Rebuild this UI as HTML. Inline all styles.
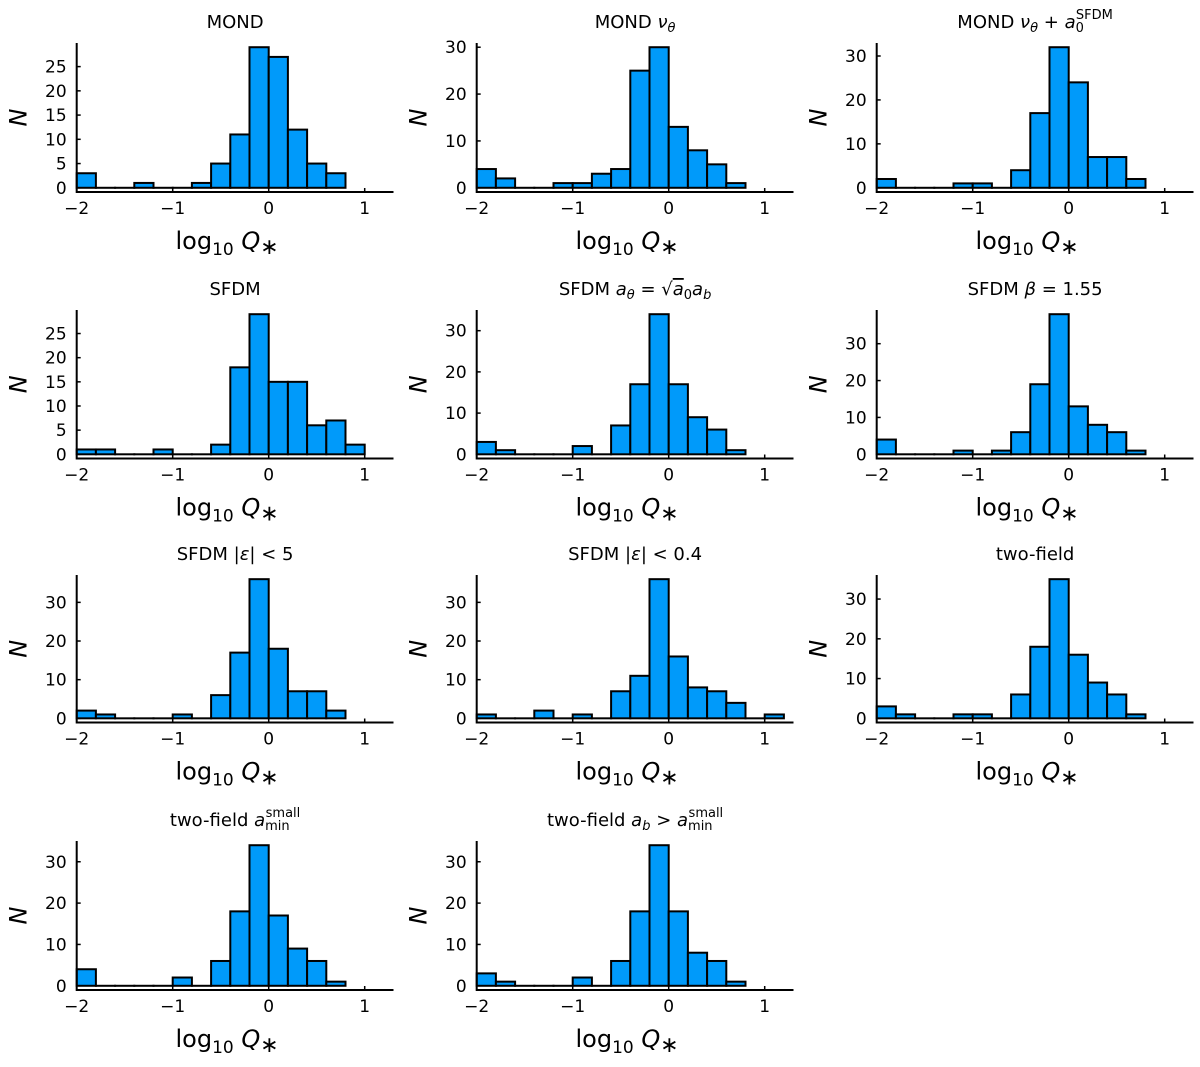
<!DOCTYPE html>
<html><head><meta charset="utf-8"><style>
html,body{margin:0;padding:0;background:#fff;}
svg{display:block;font-family:"DejaVu Sans","Liberation Sans",sans-serif;}
</style></head><body>
<svg id="fig" width="1200" height="1067" viewBox="0 0 1200 1067"></svg>
<script>
const titles = ["MOND","MOND ν_θ","MOND ν_θ + a_0^SFDM","SFDM","SFDM a_θ = √a₀a_b","SFDM β = 1.55","SFDM |ε| < 5","SFDM |ε| < 0.4","two-field","two-field a_min^small","two-field a_b > a_min^small"];
const binStart = -2;
const binWidth = 0.2;
const countsMOND = [3,0,0,1,0,0,1,5,11,29,27,12,5,3];
const countsMONDnu = [4,2,0,0,1,1,3,4,25,30,13,8,5,1];
const countsMONDnuA0 = [2,0,0,0,1,1,0,4,17,32,24,7,7,2];
const countsSFDM = [1,1,0,0,1,0,0,2,18,29,15,15,6,7,2];
const countsSFDMatheta = [3,1,0,0,0,2,0,7,17,34,17,9,6,1];
const countsSFDMbeta = [4,0,0,0,1,0,1,6,19,38,13,8,6,1];
const countsSFDMeps5 = [2,1,0,0,0,1,0,6,17,36,18,7,7,2];
const countsSFDMeps04 = [1,0,0,2,0,1,0,7,11,36,16,8,7,4,0,1];
const countsTwoField = [3,1,0,0,1,1,0,6,18,35,16,9,6,1];
const countsTwoFieldAmin = [4,0,0,0,0,2,0,6,18,34,17,9,6,1];
const countsTwoFieldAb = [3,1,0,0,0,2,0,6,18,34,18,8,6,1];
const yTicksSmall = [0,5,10,15,20,25];
const yTicksLarge = [0,10,20,30];
const xTicks = [-2,-1,0,1];
const xTickLabels = ["−2","−1","0","1"];

const allCounts=[countsMOND,countsMONDnu,countsMONDnuA0,countsSFDM,countsSFDMatheta,countsSFDMbeta,countsSFDMeps5,countsSFDMeps04,countsTwoField,countsTwoFieldAmin,countsTwoFieldAb];
const yTickSets=[yTicksSmall,yTicksLarge,yTicksLarge,yTicksSmall,yTicksLarge,yTicksLarge,yTicksLarge,yTicksLarge,yTicksLarge,yTicksLarge,yTicksLarge];
const NS="http://www.w3.org/2000/svg";
const svg=document.getElementById('fig');
function mk(tag,attrs,parent){const e=document.createElementNS(NS,tag);for(const k in attrs)e.setAttribute(k,attrs[k]);(parent||svg).appendChild(e);return e;}
const rowTop=[43,310,575,841], rowBot=[192,458.5,722.5,990];
const colLeft=[76.7,476.7,876.7];
const XMIN=-2,XMAX=1.3,PW=316.8;

function titleHTML(i){
  const m={
   1:'MOND <tspan font-style="italic">ν</tspan><tspan font-style="italic" font-size="13" dy="4">θ</tspan>',
   2:'MOND <tspan font-style="italic">ν</tspan><tspan font-style="italic" font-size="13" dy="4">θ</tspan><tspan dy="-4"> + </tspan><tspan font-style="italic">a</tspan><tspan font-size="13" dy="4">0</tspan><tspan font-size="13" dx="-8" dy="-13">SFDM</tspan>',
   4:'SFDM <tspan font-style="italic">a</tspan><tspan font-style="italic" font-size="13" dy="4">θ</tspan><tspan dy="-4"> = √</tspan><tspan font-style="italic" text-decoration="overline">a</tspan><tspan font-size="13" dy="4">0</tspan><tspan font-style="italic" dy="-4">a</tspan><tspan font-style="italic" font-size="13" dy="4">b</tspan>',
   5:'SFDM <tspan font-style="italic">β</tspan> = 1.55',
   6:'SFDM |<tspan font-style="italic">ε</tspan>| &lt; 5',
   7:'SFDM |<tspan font-style="italic">ε</tspan>| &lt; 0.4',
   9:'two-field <tspan font-style="italic">a</tspan><tspan font-size="13" dy="4">min</tspan><tspan font-size="13" dx="-24" dy="-13">small</tspan>',
   10:'two-field <tspan font-style="italic">a</tspan><tspan font-style="italic" font-size="13" dy="4">b</tspan><tspan dy="-4"> &gt; </tspan><tspan font-style="italic">a</tspan><tspan font-size="13" dy="4">min</tspan><tspan font-size="13" dx="-24" dy="-13">small</tspan>'
  };
  return m[i]!==undefined?m[i]:titles[i];
}

allCounts.forEach((counts,i)=>{
  const r=Math.floor(i/3), c=i%3;
  const top=rowTop[r], bot=rowBot[r], left=colLeft[c];
  const M=Math.max(...counts);
  const ylo=-0.03*M, yhi=1.03*M;
  const xs=v=>left+(v-XMIN)/(XMAX-XMIN)*PW;
  const ys=v=>bot-(v-ylo)/(yhi-ylo)*(bot-top);
  const g=mk('g',{});
  
  
  counts.forEach((n,k)=>{
    const x0=xs(binStart+k*binWidth), x1=xs(binStart+(k+1)*binWidth);
    const rect=mk('rect',{x:x0,y:ys(n),width:x1-x0,height:Math.max(ys(0)-ys(n),0.01),fill:'#009AFA',stroke:'#000','stroke-width':2},g);
    
    
  });
  const ax=mk('path',{d:`M${left},${top} L${left},${bot} L${left+PW},${bot}`,fill:'none',stroke:'#000','stroke-width':2},g);
  
  
  xTicks.forEach((t,k)=>{
    mk('line',{x1:xs(t),x2:xs(t),y1:bot,y2:bot-4,stroke:'#000','stroke-width':1.5},g);
    const tl=mk('text',{x:xs(t),y:bot+22,'font-size':17,'text-anchor':'middle'},g);
    tl.textContent=xTickLabels[k];
    
    
  });
  yTickSets[i].forEach(t=>{
    mk('line',{x1:left,x2:left+4,y1:ys(t),y2:ys(t),stroke:'#000','stroke-width':1.5},g);
    const tl=mk('text',{x:left-10,y:ys(t)+6,'font-size':17,'text-anchor':'end'},g);
    tl.textContent=t;
    
    
  });
  const tt=mk('text',{x:left+PW/2,y:top-15,'font-size':18,'text-anchor':'middle'},g);
  tt.innerHTML=titleHTML(i);
  
  
  const xl=mk('text',{x:left+PW/2-8,y:bot+57,'font-size':24,'text-anchor':'middle'},g);
  xl.innerHTML='log<tspan font-size="17" dy="6">10</tspan><tspan dy="-6" font-style="italic"> Q</tspan><tspan font-size="22" dy="5">∗</tspan>';
  
  
  const yl=mk('text',{x:0,y:0,'font-size':24,'font-style':'italic','text-anchor':'middle',transform:`translate(${left-50},${(top+bot)/2}) rotate(-90)`},g);
  yl.textContent='N';
  
  
});
</script>
</body></html>
